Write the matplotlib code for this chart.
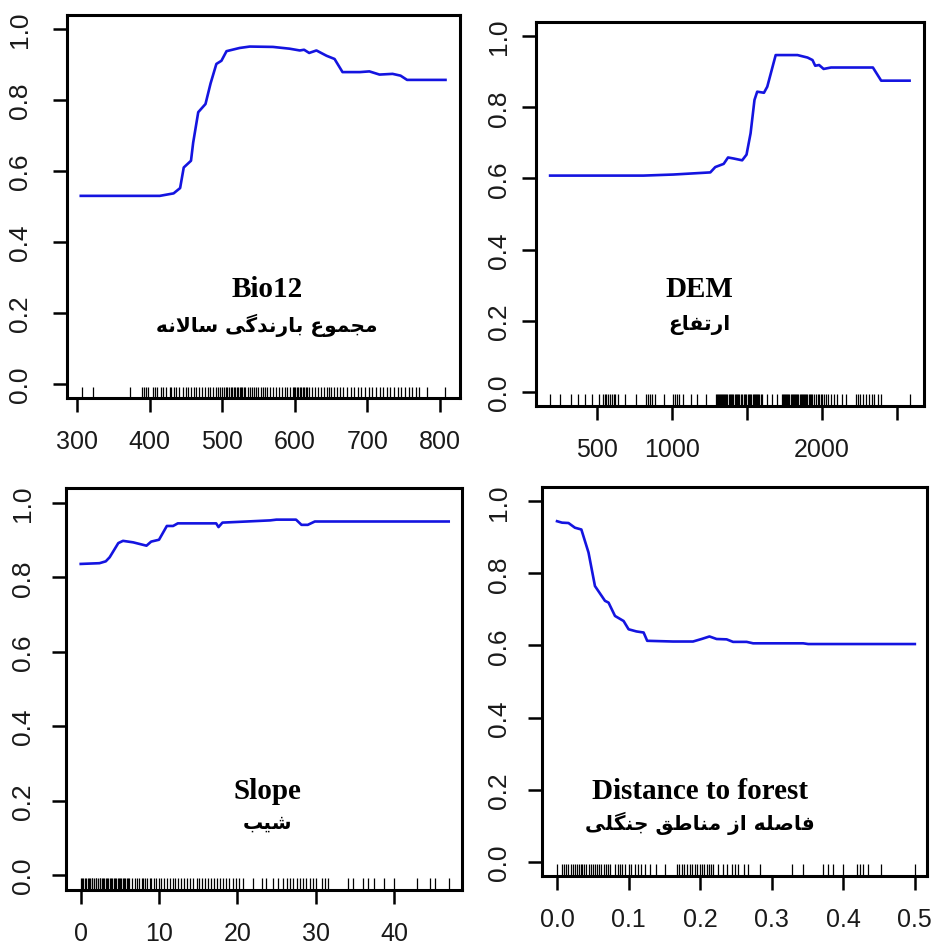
import numpy as np
import matplotlib
matplotlib.use('Agg')
import matplotlib.pyplot as plt
import matplotlib.transforms as mtransforms

# response curves (x, y)
bio12_x = [305, 414, 433, 442, 447, 457, 460, 467, 477, 484, 492, 499, 506, 524, 538, 570, 593, 607, 613, 620, 630, 644, 655, 666, 690, 703, 717, 735, 746, 755, 808]
bio12_y = [0.530, 0.530, 0.537, 0.552, 0.610, 0.629, 0.680, 0.766, 0.789, 0.847, 0.902, 0.911, 0.938, 0.947, 0.951, 0.950, 0.945, 0.940, 0.942, 0.933, 0.940, 0.925, 0.916, 0.879, 0.879, 0.881, 0.872, 0.874, 0.869, 0.857, 0.857]

dem_x = [190, 810, 1010, 1256, 1289, 1345, 1374, 1412, 1468, 1497, 1524, 1550, 1568, 1613, 1635, 1691, 1836, 1903, 1936, 1954, 1980, 2010, 2059, 2338, 2393, 2582]
dem_y = [0.608, 0.608, 0.611, 0.617, 0.632, 0.641, 0.659, 0.656, 0.651, 0.667, 0.727, 0.821, 0.844, 0.841, 0.858, 0.947, 0.947, 0.940, 0.933, 0.917, 0.919, 0.908, 0.912, 0.912, 0.875, 0.875]

slope_x = [0, 2.4, 3.2, 3.7, 4.8, 5.4, 6.7, 8.4, 9.0, 10.0, 11.0, 11.8, 12.4, 17.3, 17.6, 18.1, 21.2, 24.2, 25.0, 27.5, 28.2, 29.0, 29.9, 47.0]
slope_y = [0.836, 0.838, 0.843, 0.854, 0.892, 0.898, 0.894, 0.885, 0.896, 0.901, 0.938, 0.938, 0.945, 0.945, 0.935, 0.947, 0.950, 0.953, 0.955, 0.955, 0.941, 0.941, 0.950, 0.950]

dist_x = [0.000, 0.007, 0.016, 0.025, 0.034, 0.044, 0.053, 0.067, 0.072, 0.081, 0.093, 0.100, 0.111, 0.121, 0.126, 0.162, 0.190, 0.202, 0.213, 0.223, 0.237, 0.246, 0.265, 0.274, 0.344, 0.351, 0.500]
dist_y = [0.945, 0.941, 0.940, 0.927, 0.922, 0.858, 0.765, 0.724, 0.719, 0.682, 0.668, 0.645, 0.639, 0.636, 0.613, 0.611, 0.611, 0.618, 0.625, 0.618, 0.617, 0.610, 0.610, 0.606, 0.606, 0.604, 0.604]

# rug (observations) positions
bio12_rug = [306, 322, 373, 389, 392, 395, 398, 404, 407, 410, 415, 419, 423, 428, 430, 434, 437, 441, 446, 450, 453, 457, 461, 464, 468, 472, 476, 480, 483, 487, 491, 494, 497, 500, 502, 505, 507, 510, 512, 514, 516, 518, 520, 522, 524, 526, 528, 530, 532, 535, 538, 541, 544, 547, 550, 553, 556, 559, 562, 566, 570, 574, 578, 582, 586, 590, 594, 597, 599, 601, 603, 605, 607, 609, 611, 613, 615, 617, 620, 624, 628, 632, 636, 640, 644, 647, 650, 654, 658, 662, 667, 672, 677, 682, 687, 692, 697, 702, 707, 712, 717, 722, 727, 732, 737, 742, 747, 752, 757, 762, 768, 772, 782, 808]
dem_rug = [192, 255, 326, 378, 424, 470, 513, 540, 552, 565, 575, 588, 600, 612, 625, 645, 690, 762, 830, 842, 855, 870, 888, 945, 1010, 1020, 1032, 1045, 1075, 1128, 1165, 1228,
           1296, 1302, 1308, 1315, 1320, 1328, 1335, 1340, 1348, 1355, 1362, 1370, 1378, 1385, 1392, 1400, 1410, 1418, 1425, 1432, 1440, 1450, 1460, 1470, 1478, 1485, 1495, 1505,
           1515, 1522, 1530, 1538, 1545, 1552, 1560, 1568, 1575, 1582, 1590, 1598, 1630, 1665, 1700, 1731, 1738, 1745, 1752, 1760, 1768, 1775, 1782, 1790, 1798, 1805, 1812, 1820,
           1828, 1835, 1842, 1850, 1858, 1865, 1872, 1880, 1888, 1895, 1902, 1910, 1918, 1925, 1931, 1944, 1958, 1970, 1982, 1992, 2000, 2010, 2025, 2040, 2060, 2081, 2100, 2132,
           2159, 2226, 2240, 2255, 2270, 2290, 2310, 2330, 2348, 2370, 2393, 2582]
slope_rug = [0.0, 0.2, 0.35, 0.5, 0.7, 0.9, 1.0, 1.2, 1.4, 1.5, 1.7, 1.9, 2.0, 2.2, 2.4, 2.5, 2.7, 2.9, 3.0, 3.2, 3.4, 3.5, 3.7, 3.9, 4.0, 4.2, 4.4, 4.5, 4.7, 4.9,
             5.0, 5.2, 5.4, 5.5, 5.7, 5.9, 6.0, 6.2, 6.5, 6.9, 7.2, 7.5, 7.8, 8.0, 8.2, 8.5, 8.8, 9.0, 9.3, 9.6, 10.0, 10.3, 10.6, 11.0, 11.4, 11.8, 12.0, 12.4, 12.8, 13.2,
             13.6, 14.0, 14.4, 14.8, 15.1, 15.5, 15.9, 16.3, 16.7, 17.0, 17.4, 17.8, 18.2, 18.6, 19.0, 19.4, 19.8, 20.2, 20.7, 22.0, 23.1, 23.7, 24.6, 25.2, 25.9, 26.3,
             26.7, 27.1, 27.6, 28.0, 28.4, 28.8, 29.3, 29.7, 30.1, 30.8, 31.2, 31.6, 34.2, 34.8, 36.1, 36.7, 37.4, 38.8, 40.0, 42.9, 44.6, 45.2, 47.0]
dist_rug = [0.000, 0.007, 0.010, 0.013, 0.016, 0.019, 0.022, 0.025, 0.028, 0.031, 0.033, 0.035, 0.038, 0.041, 0.044, 0.047, 0.050, 0.053, 0.056, 0.059, 0.062,
            0.065, 0.068, 0.071, 0.074, 0.081, 0.085, 0.088, 0.091, 0.095, 0.100, 0.104, 0.109, 0.113, 0.118, 0.123, 0.130, 0.139, 0.151, 0.167, 0.171, 0.175,
            0.178, 0.182, 0.186, 0.189, 0.193, 0.196, 0.200, 0.203, 0.206, 0.209, 0.212, 0.215, 0.218, 0.225, 0.232, 0.237, 0.244, 0.249, 0.253, 0.261, 0.267,
            0.283, 0.328, 0.344, 0.372, 0.379, 0.386, 0.400, 0.419, 0.423, 0.428, 0.435, 0.453, 0.500]

names_en = ['Bio12', 'DEM', 'Slope', 'Distance to forest']
names_fa = ['مجموع بارندگی سالانه', 'ارتفاع', 'شیب', 'فاصله از مناطق جنگلی']

bio12_ticks = [300, 400, 500, 600, 700, 800]
dem_ticks = [500, 1000, 1500, 2000, 2500]
dem_labels = ['500', '1000', '', '2000', '']
slope_ticks = [0, 10, 20, 30, 40]
dist_ticks = [0.0, 0.1, 0.2, 0.3, 0.4, 0.5]
y_ticks = [0.0, 0.2, 0.4, 0.6, 0.8, 1.0]

# matplotlib has no arabic shaping: pick presentation forms by hand, then reverse
FORMS = {  # isolated, final, initial, medial
    '\u0627': ('\uFE8D', '\uFE8E', None, None),
    '\u0628': ('\uFE8F', '\uFE90', '\uFE91', '\uFE92'),
    '\u062A': ('\uFE95', '\uFE96', '\uFE97', '\uFE98'),
    '\u062C': ('\uFE9D', '\uFE9E', '\uFE9F', '\uFEA0'),
    '\u062F': ('\uFEA9', '\uFEAA', None, None),
    '\u0631': ('\uFEAD', '\uFEAE', None, None),
    '\u0632': ('\uFEAF', '\uFEB0', None, None),
    '\u0633': ('\uFEB1', '\uFEB2', '\uFEB3', '\uFEB4'),
    '\u0634': ('\uFEB5', '\uFEB6', '\uFEB7', '\uFEB8'),
    '\u0635': ('\uFEB9', '\uFEBA', '\uFEBB', '\uFEBC'),
    '\u0637': ('\uFEC1', '\uFEC2', '\uFEC3', '\uFEC4'),
    '\u0639': ('\uFEC9', '\uFECA', '\uFECB', '\uFECC'),
    '\u0641': ('\uFED1', '\uFED2', '\uFED3', '\uFED4'),
    '\u0642': ('\uFED5', '\uFED6', '\uFED7', '\uFED8'),
    '\u0644': ('\uFEDD', '\uFEDE', '\uFEDF', '\uFEE0'),
    '\u0645': ('\uFEE1', '\uFEE2', '\uFEE3', '\uFEE4'),
    '\u0646': ('\uFEE5', '\uFEE6', '\uFEE7', '\uFEE8'),
    '\u0647': ('\uFEE9', '\uFEEA', '\uFEEB', '\uFEEC'),
    '\u0648': ('\uFEED', '\uFEEE', None, None),
    '\u06AF': ('\uFB92', '\uFB93', '\uFB94', '\uFB95'),
    '\u06CC': ('\uFBFC', '\uFBFD', '\uFBFE', '\uFBFF'),
}


def shape(text):
    chars = list(text.replace('\u064A', '\u06CC'))
    out = []
    i = 0
    while i < len(chars):
        c = chars[i]
        if c not in FORMS:
            out.append(c)
            i += 1
            continue
        prev = chars[i - 1] if i > 0 else None
        join_prev = prev in FORMS and FORMS[prev][2] is not None
        if c == '\u0644' and i + 1 < len(chars) and chars[i + 1] == '\u0627':
            out.append('\uFEFC' if join_prev else '\uFEFB')
            i += 2
            continue
        nxt = chars[i + 1] if i + 1 < len(chars) else None
        join_next = FORMS[c][2] is not None and nxt in FORMS
        iso, fin, ini, med = FORMS[c]
        if join_prev and join_next:
            out.append(med)
        elif join_prev:
            out.append(fin)
        elif join_next:
            out.append(ini)
        else:
            out.append(iso)
        i += 1
    return ''.join(reversed(out))


plt.rcParams['font.family'] = ['Liberation Sans', 'DejaVu Sans']

fig = plt.figure(figsize=(9.34, 9.45), dpi=100)
W, H = 934, 945


def box(l, t, r, b):
    return [l / W, (H - b) / H, (r - l) / W, (b - t) / H]


# box, x, y, rug, xlim, xticks, xlabels, (text x, y en, y fa), y-label pad
panels = [
    (box(67, 16, 460, 399), bio12_x, bio12_y, bio12_rug, (286, 828), bio12_ticks, [str(t) for t in bio12_ticks], (0.509, 0.285, 0.193), 15),
    (box(536, 23, 924, 407), dem_x, dem_y, dem_rug, (96, 2678), dem_ticks, dem_labels, (0.420, 0.305, 0.214), 8),
    (box(66, 489, 462, 891), slope_x, slope_y, slope_rug, (-1.88, 48.7), slope_ticks, [str(t) for t in slope_ticks], (0.508, 0.247, 0.169), 12),
    (box(542, 488, 927, 877), dist_x, dist_y, dist_rug, (-0.021, 0.517), dist_ticks, ['%.1f' % t for t in dist_ticks], (0.410, 0.219, 0.139), 12),
]

for k, (rect, xs, ys, rug, xlim, xt, xl, txt, ypad) in enumerate(panels):
    ax = fig.add_axes(rect)
    ax.plot(xs, ys, color='#1414e0', lw=1.9, solid_joinstyle='round')
    # rug along the bottom
    trans = mtransforms.blended_transform_factory(ax.transData, ax.transAxes)
    ax.vlines(rug, 0, 0.03, transform=trans, color='black', lw=0.9)
    ax.set_xlim(*xlim)
    ax.set_ylim(-0.04, 1.04)
    ax.set_xticks(xt)
    ax.set_xticklabels(xl)
    ax.set_yticks(y_ticks)
    ax.set_yticklabels(['%.1f' % v for v in y_ticks])
    plt.setp(ax.get_yticklabels(), rotation=90, va='center')
    ax.tick_params(length=10, width=1.8, colors='black', labelcolor='#1a1a1a')
    ax.tick_params(axis='x', labelsize=18, pad=12)
    ax.tick_params(axis='y', labelsize=19, pad=ypad)
    for s in ax.spines.values():
        s.set_linewidth(2.2)
    cx, y1, y2 = txt
    ax.text(cx, y1, names_en[k], transform=ax.transAxes, ha='center', va='center',
            family='Liberation Serif', weight='bold', fontsize=21)
    ax.text(cx, y2, shape(names_fa[k]), transform=ax.transAxes, ha='center', va='center',
            family=['DejaVu Sans'], weight='bold', fontsize=14.5)

fig.savefig('out.png', dpi=100)
